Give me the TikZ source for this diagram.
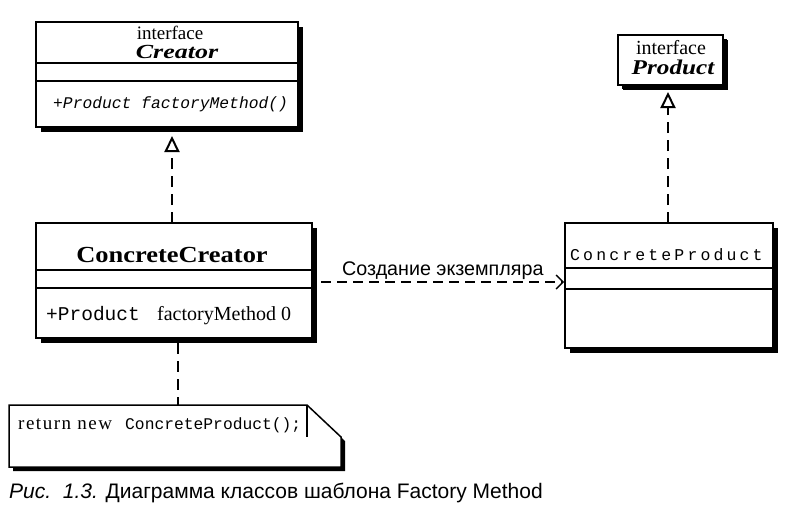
\documentclass[tikz,border=0pt]{standalone}
\usepackage{fontspec}
\setmainfont{Liberation Serif}
\setsansfont{Liberation Sans}
\setmonofont{Liberation Mono}
\usetikzlibrary{arrows.meta,shadows,calc}
\begin{document}
\begin{tikzpicture}[x=1pt,y=-1pt,
  box/.style={draw, line width=1.6pt, fill=white, inner sep=0pt, outer sep=0pt,
    drop shadow={shadow xshift=5pt, shadow yshift=-5pt, fill=black, opacity=1}},
  divider/.style={line width=1.3pt},
  txt/.style={inner sep=0pt, anchor=base},
  txtw/.style={inner sep=0pt, anchor=base west},
  link/.style={line width=1.5pt, dash pattern=on 11pt off 7pt},
  realize/.style={link, -{Triangle[open, width=15pt, length=16pt, line width=2pt]}},
  dep/.style={line width=1.3pt, dash pattern=on 10pt off 6pt, -{Straight Barb[length=7pt, width=14pt, line width=1.4pt]}},
]
\useasboundingbox[fill=white] (0,0) rectangle (810,517);

% Creator interface
\node[box, minimum width=262pt, minimum height=105pt] (cr) at (167,74.5) {};
\draw[divider] (cr.west |- 0,63) -- (cr.east |- 0,63);
\draw[divider] (cr.west |- 0,81) -- (cr.east |- 0,81);
\node[txt, font=\fontsize{19}{19}\selectfont] (crI) at (170,39) {interface};
\node[txt, font=\fontsize{20}{20}\selectfont\bfseries\itshape\addfontfeature{FakeStretch=1.3}] (crN) at (177,58) {Creator};
\node[txtw, font=\fontsize{16.3}{16}\selectfont\ttfamily\itshape] (crM) at (53,108) {+Product factoryMethod()};

% ConcreteCreator
\node[box, minimum width=276pt, minimum height=115pt] (cc) at (174,280.5) {};
\draw[divider] (cc.west |- 0,270) -- (cc.east |- 0,270);
\draw[divider] (cc.west |- 0,288) -- (cc.east |- 0,288);
\node[txt, font=\fontsize{23}{23}\selectfont\bfseries\addfontfeature{FakeStretch=1.15}] (ccN) at (172,262) {ConcreteCreator};
\node[txtw, font=\fontsize{19.5}{19}\selectfont\ttfamily] (ccM1) at (46,320) {+Product};
\node[txtw, font=\fontsize{20}{20}\selectfont] (ccM2) at (157,320) {factoryMethod 0};

% Product interface
\node[box, minimum width=105pt, minimum height=50pt, drop shadow={shadow xshift=4pt, shadow yshift=-4pt, fill=black, opacity=1}] (pr) at (670.5,60) {};
\node[txt, font=\fontsize{20}{20}\selectfont] (prI) at (671,54) {interface};
\node[txt, font=\fontsize{21}{21}\selectfont\bfseries\itshape\addfontfeature{FakeStretch=1.2}] (prN) at (673,74) {Product};

% ConcreteProduct
\node[box, minimum width=208pt, minimum height=125pt] (cp) at (669,285.5) {};
\draw[divider] (cp.west |- 0,268) -- (cp.east |- 0,268);
\draw[divider] (cp.west |- 0,289) -- (cp.east |- 0,289);
\node[txtw, font=\fontsize{16.5}{16}\selectfont\ttfamily\addfontfeature{LetterSpace=19}] (cpN) at (570,260) {ConcreteProduct};

% Note
\node[inner sep=0pt, outer sep=0pt, minimum width=332pt, minimum height=62pt] (note) at (175,436) {};
\fill[black] ($(note.north west)+(4,4)$) -- ($(note.north east)+(-30,4)$) -- ($(note.north east)+(4,36)$) -- ($(note.south east)+(4,4)$) -- ($(note.south west)+(4,4)$) -- cycle;
\draw[line width=1.5pt, fill=white] (note.north west) -- ($(note.north east)+(-34,0)$) -- ($(note.north east)+(0,32)$) -- (note.south east) -- (note.south west) -- cycle;
\draw[line width=1.3pt] ($(note.north east)+(-34,0)$) -- ($(note.north east)+(-34,32)$);
\node[txtw, font=\fontsize{19}{19}\selectfont\addfontfeature{LetterSpace=8}] (nt1) at (18,429) {return new};
\node[txtw, font=\fontsize{16.3}{16}\selectfont\ttfamily] (nt2) at (125,429) {ConcreteProduct();};

% Connectors
\coordinate (ax1) at (172,0);
\coordinate (ax2) at (668,0);
\coordinate (ax3) at (178,0);
\coordinate (ly) at (0,282);
\draw[realize, shorten >=9pt] (cc.north -| ax1) -- (cr.south -| ax1);
\draw[realize, shorten >=7pt] (cp.north -| ax2) -- (pr.south -| ax2);
\draw[link, line width=1.3pt, shorten <=5pt] (cc.south -| ax3) -- (note.north -| ax3);
\draw[dep, shorten <=9pt, shorten >=1pt] (cc.east |- ly) -- (cp.west |- ly);
\node[txtw, font=\fontsize{19.7}{19}\selectfont\sffamily] (lbl) at (342,275) {Создание экземпляра};

% Caption
\node[txtw, font=\fontsize{21}{21}\selectfont\sffamily] (cap) at (9,498) {\textit{Рис.\ \ 1.3.} Диаграмма классов шаблона Factory Method};
\end{tikzpicture}
\end{document}
